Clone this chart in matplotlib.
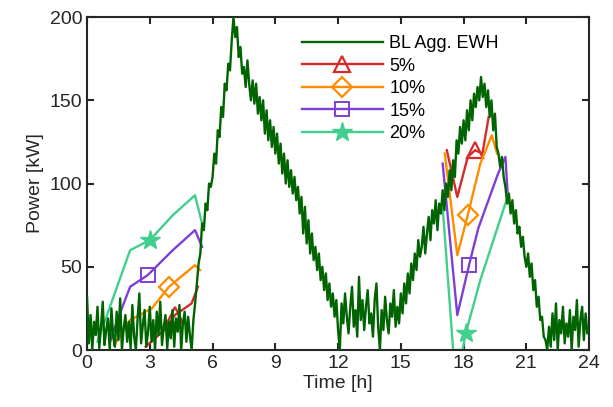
import numpy as np
import matplotlib
matplotlib.use('Agg')
import matplotlib.pyplot as plt

plt.rcParams['font.family'] = ['Liberation Sans', 'DejaVu Sans']

# baseline aggregated EWH power, 5 min steps, one row per hour
bl_power = [
    32, 4, 21, 0, 17, 9, 26, 1, 14, 29, 3, 12,
    19, 0, 25, 8, 2, 23, 6, 31, 0, 13, 21, 5,
    17, 1, 27, 8, 0, 19, 34, 4, 15, 24, 2, 11,
    26, 5, 18, 0, 23, 9, 29, 3, 14, 21, 1, 17,
    7, 24, 2, 19, 11, 27, 0, 16, 23, 5, 20, 9,
    0, 18, 28, 40, 52, 58, 76, 72, 88, 84, 100, 98,
    104, 118, 112, 132, 128, 146, 140, 160, 156, 172, 168, 186,
    200, 188, 194, 176, 182, 166, 170, 158, 174, 160, 150, 162,
    148, 160, 142, 152, 138, 150, 130, 144, 126, 138, 122, 134,
    118, 130, 112, 124, 106, 118, 100, 114, 98, 108, 94, 104,
    90, 98, 82, 92, 70, 86, 64, 78, 58, 70, 54, 62,
    48, 58, 42, 50, 36, 46, 30, 40, 26, 34, 20, 30,
    12, 0, 28, 16, 34, 20, 10, 26, 38, 14, 24, 8,
    44, 18, 30, 12, 26, 36, 16, 22, 8, 30, 40, 14,
    0, 24, 12, 32, 18, 10, 28, 20, 36, 14, 26, 16,
    34, 22, 40, 28, 46, 34, 52, 42, 58, 48, 66, 56,
    62, 74, 58, 70, 80, 66, 84, 76, 90, 72, 88, 82,
    96, 84, 100, 92, 108, 96, 114, 104, 126, 118, 134, 124,
    138, 126, 144, 132, 150, 138, 154, 146, 158, 150, 164, 152,
    160, 146, 156, 140, 150, 132, 142, 122, 118, 110, 116, 104,
    98, 88, 94, 82, 90, 76, 84, 70, 74, 62, 68, 56,
    50, 58, 44, 52, 36, 42, 26, 32, 18, 20, 8, 6,
    0, 14, 2, 22, 6, 28, 0, 18, 10, 26, 4, 16,
    8, 24, 0, 20, 12, 30, 2, 18, 26, 6, 22, 10,
    14,
]
bl_time = np.arange(len(bl_power)) / 12.0

# shifted profiles (morning and evening parts, NaN splits them)
t_5 = [2.8, 3.7, 4.2, 5.0, 5.3, np.nan, 17.2, 17.7, 18.2, 18.55, 18.9, 19.2]
p_5 = [2, 12, 21, 28, 38, np.nan, 120, 92, 116, 120, 118, 140]
t_10 = [1.3, 2.06, 3.1, 3.92, 5.16, 5.4, np.nan, 17.1, 17.7, 18.2, 18.8, 19.35, 19.6]
p_10 = [3, 18, 25, 38, 51, 48, np.nan, 118, 57, 81, 112, 129, 118]
t_15 = [1.1, 1.45, 2.06, 2.9, 4.1, 5.16, 5.5, np.nan, 17.0, 17.7, 18.26, 18.7, 19.65, 20.0, 20.1]
p_15 = [5, 18, 38, 45, 60, 72, 62, np.nan, 112, 21, 51, 73, 106, 116, 95]
t_20 = [0.5, 2.06, 3.0, 4.1, 5.16, 5.5, np.nan, 17.0, 17.5, 17.95, 18.1, 18.8, 20.05]
p_20 = [5, 60, 66, 81, 93, 76, np.nan, 86, 0, 0, 10, 42, 90]

# index of the point carrying the single marker
mark_5, mark_10, mark_15, mark_20 = [2, 9], [3, 9], [3, 10], [2, 10]

fig = plt.figure(figsize=(6.13, 4.07), dpi=100)
ax = fig.add_axes([0.142, 0.14, 0.819, 0.818])

ax.plot(t_5, p_5, color='#d62a2a', lw=1.7, marker='^', ms=12, mfc='none', mew=1.6,
        markevery=mark_5, label='5%', zorder=2)
ax.plot(t_10, p_10, color='#ff8c00', lw=1.7, marker='D', ms=10, mfc='none', mew=1.6,
        markevery=mark_10, label='10%', zorder=2)
ax.plot(t_15, p_15, color='#7e3fd6', lw=1.7, marker='s', ms=10, mfc='none', mew=1.4,
        markevery=mark_15, label='15%', zorder=2)
ax.plot(t_20, p_20, color='#40cf8c', lw=1.7, marker='*', ms=15, mfc='#40cf8c', mew=1.0,
        markevery=mark_20, label='20%', zorder=2)
ax.plot(bl_time, bl_power, color='#006400', lw=1.7, label='BL Agg. EWH', zorder=3)

ax.set_xlim(0, 24)
ax.set_ylim(0, 200)
ax.set_xticks(np.arange(0, 25, 3))
ax.set_yticks(np.arange(0, 201, 50))
ax.tick_params(direction='in', length=5, width=1.5, labelsize=14, colors='#262626', top=True, right=True,
               labeltop=False, labelright=False)
for s in ax.spines.values():
    s.set_linewidth(1.5)
    s.set_color('#262626')
ax.set_xlabel('Time [h]', fontsize=14, color='#262626', labelpad=2)
ax.set_ylabel('Power [kW]', fontsize=14, color='#262626', labelpad=4)

h, l = ax.get_legend_handles_labels()
order = [4, 0, 1, 2, 3]
ax.legend([h[i] for i in order], [l[i] for i in order], loc='upper left', bbox_to_anchor=(0.395, 0.995),
          frameon=False, fontsize=13, handlelength=4.5, numpoints=1,
          labelspacing=0.31, handletextpad=0.35)

fig.savefig('out.png', dpi=100)
